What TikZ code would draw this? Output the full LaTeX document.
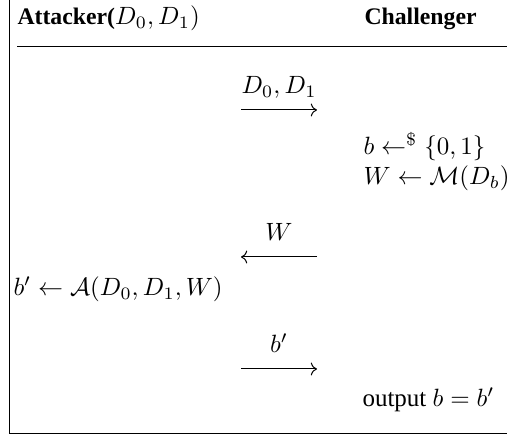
\documentclass[tikz,border=0pt]{standalone}
\usepackage{amsmath,amssymb}
\usepackage{fontspec}
\setmainfont{Liberation Serif}
\usetikzlibrary{arrows.meta,positioning,calc}
\newcommand{\hdr}[1]{{\fontsize{9.5}{11}\selectfont\bfseries #1}}

\begin{document}
\begin{tikzpicture}[x=0.4pt,y=-0.4pt,msg/.style={->,line width=0.4pt},txt/.style={inner sep=0pt},lbl/.style={inner sep=0pt,anchor=base,yshift=6.4pt}]
\useasboundingbox (0,0) rectangle (507,438);
\draw (9,0)--(9,434)--(507,434);
\node[txt,anchor=base west] (att) at (17,25) {\hdr{Attacker(}$D_0,D_1)$};
\node[txt,anchor=base west] (chal) at (364,25) {\hdr{Challenger}};
\draw (17,47)--(507,47);
\coordinate (m1s) at (241,110); \coordinate (m1e) at (317,110);
\draw[msg] (m1s)--(m1e) node[lbl,midway] (m1) {$D_0,D_1$};
\node[txt,anchor=base west] (samp) at (363,155) {$b \leftarrow^{\$} \{0,1\}$};
\node[txt,anchor=base west] (mech) at (363,185) {$W \leftarrow \mathcal{M}(D_b)$};
\coordinate (m2s) at (317,257); \coordinate (m2e) at (241,257);
\draw[msg] (m2s)--(m2e) node[lbl,midway] (m2) {$W$};
\node[txt,anchor=base west] (guess) at (13,296) {$b' \leftarrow \mathcal{A}(D_0,D_1,W)$};
\coordinate (m3s) at (241,369); \coordinate (m3e) at (317,369);
\draw[msg] (m3s)--(m3e) node[lbl,midway] (m3) {$b'$};
\node[txt,anchor=base west] (out) at (362,407) {output $b=b'$};
\end{tikzpicture}
\end{document}
